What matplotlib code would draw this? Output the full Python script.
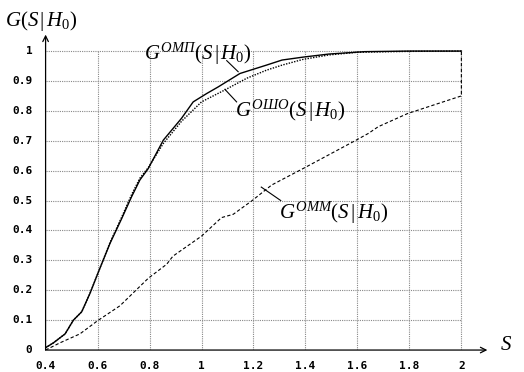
import numpy as np
import matplotlib.pyplot as plt

plt.rcParams['mathtext.fontset'] = 'custom'
plt.rcParams['mathtext.rm'] = 'Liberation Serif'
plt.rcParams['mathtext.it'] = 'Liberation Serif:italic'

# G^ОМП (solid)
s_omp = [0.40, 0.43, 0.475, 0.507, 0.539, 0.571, 0.60, 0.648, 0.693, 0.731, 0.763, 0.795,
         0.853, 0.923, 0.968, 1.02, 1.064, 1.148, 1.25, 1.31, 1.393, 1.49, 1.628, 1.8, 2.0]
g_omp = [0.008, 0.024, 0.054, 0.10, 0.128, 0.19, 0.254, 0.357, 0.44, 0.513, 0.569, 0.607,
         0.702, 0.775, 0.83, 0.858, 0.88, 0.925, 0.953, 0.97, 0.98, 0.99, 0.998, 1.0, 1.0]

# G^ОШО (dotted)
s_osho = [0.40, 0.43, 0.475, 0.507, 0.539, 0.571, 0.60, 0.648, 0.693, 0.731, 0.763, 0.795,
          0.853, 0.923, 1.0, 1.09, 1.174, 1.25, 1.31, 1.39, 1.49, 1.6, 1.8, 2.0]
g_osho = [0.008, 0.024, 0.054, 0.10, 0.128, 0.19, 0.254, 0.36, 0.445, 0.52, 0.575, 0.61,
          0.691, 0.765, 0.83, 0.87, 0.909, 0.936, 0.953, 0.972, 0.987, 0.996, 0.999, 1.0]

# G^ОММ (dashed)
s_omm = [0.40, 0.455, 0.532, 0.60, 0.686, 0.795, 0.866, 0.89, 1.0, 1.077, 1.122,
         1.195, 1.27, 1.393, 1.595, 1.643, 1.68, 1.793, 2.0, 2.0]
g_omm = [0.0, 0.024, 0.054, 0.098, 0.148, 0.24, 0.287, 0.314, 0.381, 0.443, 0.454,
         0.5, 0.552, 0.608, 0.702, 0.725, 0.747, 0.791, 0.85, 1.0]

xticks = [0.4, 0.6, 0.8, 1.0, 1.2, 1.4, 1.6, 1.8, 2.0]
xlabels = ['0.4', '0.6', '0.8', '1', '1.2', '1.4', '1.6', '1.8', '2']
yticks = [0, 0.1, 0.2, 0.3, 0.4, 0.5, 0.6, 0.7, 0.8, 0.9, 1.0]
ylabels = ['0', '0.1', '0.2', '0.3', '0.4', '0.5', '0.6', '0.7', '0.8', '0.9', '1']

fig = plt.figure(figsize=(5.24, 3.72), dpi=100)
ax = fig.add_axes([0.087, 0.059, 0.853, 0.86])
ax.set_xlim(0.4, 2.12)
ax.set_ylim(0, 1.07)
ax.axis('off')

# grid
for xt in xticks[1:]:
    ax.plot([xt, xt], [0, 1], color='#888888', lw=0.8, ls=(0, (1, 1)), zorder=1)
for yt in yticks[1:]:
    ax.plot([0.4, 2.0], [yt, yt], color='#888888', lw=0.8, ls=(0, (1, 1)), zorder=1)

# axes arrows
ax.annotate('', xy=(2.1, 0), xytext=(0.4, 0),
            arrowprops=dict(arrowstyle='->', lw=0.9, color='black', shrinkA=0, shrinkB=0))
ax.annotate('', xy=(0.4, 1.055), xytext=(0.4, 0),
            arrowprops=dict(arrowstyle='->', lw=0.9, color='black', shrinkA=0, shrinkB=0))

ax.plot(s_omp, g_omp, color='black', lw=1.0, zorder=3)
ax.plot(s_osho, g_osho, color='black', lw=1.0, ls=(0, (1, 1)), zorder=3)
ax.plot(s_omm, g_omm, color='black', lw=0.8, ls=(0, (3, 2)), zorder=3)

tick_font = dict(family='DejaVu Sans Mono', fontweight='bold', fontsize=8)
for xt, lab in zip(xticks, xlabels):
    ax.text(xt, -0.035, lab, ha='center', va='top', **tick_font)
for yt, lab in zip(yticks, ylabels):
    ax.text(0.35, yt, lab, ha='right', va='center', **tick_font)

lab_font = dict(fontsize=15, color='black')
ax.text(0.245, 1.10, r'$G(S\,|\,H_0)$', ha='left', va='center', clip_on=False, **lab_font)
ax.text(2.15, 0.02, r'$S$', ha='left', va='center', clip_on=False, **lab_font)

ax.text(0.78, 0.99, r'$G^{ОМП}(S\,|\,H_0)$', ha='left', va='center', **lab_font)
ax.plot([1.097, 1.141], [0.968, 0.931], color='black', lw=0.8)
ax.text(1.13, 0.80, r'$G^{ОШО}(S\,|\,H_0)$', ha='left', va='center', **lab_font)
ax.plot([1.09, 1.135], [0.872, 0.83], color='black', lw=0.8)
ax.text(1.3, 0.46, r'$G^{ОММ}(S\,|\,H_0)$', ha='left', va='center', **lab_font)
ax.plot([1.23, 1.305], [0.545, 0.5], color='black', lw=0.8)

fig.savefig('out.png', dpi=100)
